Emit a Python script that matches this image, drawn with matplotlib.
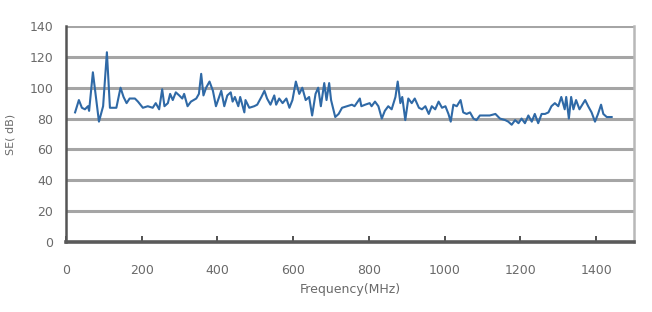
import matplotlib.pyplot as plt

# frequency (MHz) and shielding effectiveness (dB)
freq = [24, 34, 42, 50, 58, 61, 71, 79, 87, 98, 108, 116, 125, 133, 144, 152,
        160, 168, 182, 190, 203, 216, 229, 237, 246, 254, 260, 269, 275, 282,
        290, 299, 307, 312, 321, 330, 344, 351, 357, 363, 370, 379, 388, 396,
        410, 418, 426, 435, 440, 446, 455, 460, 471, 474, 484, 497, 505, 516,
        524, 531, 540, 550, 555, 563, 572, 582, 590, 598, 607, 616, 624, 633,
        642, 650, 659, 666, 673, 682, 688, 695, 700, 711, 720, 729, 742, 755,
        762, 776, 780, 790, 802, 807, 816, 825, 834, 842, 851, 860, 870, 876,
        883, 888, 896, 904, 913, 921, 932, 940, 949, 958, 966, 975, 984, 993,
        1002, 1010, 1016, 1023, 1032, 1042, 1049, 1058, 1067, 1076, 1084, 1093,
        1105, 1119, 1134, 1146, 1160, 1168, 1177, 1186, 1195, 1203, 1212, 1221,
        1230, 1238, 1247, 1256, 1265, 1274, 1282, 1291, 1300, 1308, 1317, 1321,
        1328, 1334, 1340, 1347, 1356, 1371, 1379, 1388, 1397, 1405, 1413, 1419,
        1428, 1441]
se_db = [84, 92, 87, 86, 88, 85, 110, 94, 78, 88, 123, 87, 87, 87, 100, 94,
         90, 93, 93, 91, 87, 88, 87, 90, 86, 99, 88, 90, 96, 92,
         97, 95, 93, 96, 88, 91, 93, 96, 109, 95, 100, 104, 98, 88,
         98, 88, 95, 97, 91, 94, 88, 94, 84, 92, 87, 88, 89, 94,
         98, 93, 89, 95, 89, 93, 90, 93, 87, 92, 104, 96, 100, 92,
         94, 82, 96, 100, 88, 103, 92, 103, 92, 81, 83, 87, 88, 89,
         88, 93, 88, 89, 90, 88, 91, 88, 80, 85, 88, 86, 94, 104,
         90, 94, 79, 93, 90, 93, 87, 86, 88, 83, 88, 86, 91, 87,
         88, 83, 78, 89, 88, 92, 84, 83, 84, 80, 79, 82,
         82, 82, 83, 80, 79, 78, 76, 79, 77, 80, 77, 82,
         78, 83, 77, 83, 83, 84, 88, 90, 88, 94, 86, 94,
         80, 94, 86, 92, 86, 92, 88, 84, 78, 83, 89, 83,
         81, 81]

x_ticks = [0, 200, 400, 600, 800, 1000, 1200, 1400]
y_ticks = [0, 20, 40, 60, 80, 100, 120, 140]

txt = '#6a6a6a'

fig = plt.figure(figsize=(6.52, 3.12), dpi=100)
ax = fig.add_axes([66 / 652, 1 - 242 / 312, 568 / 652, 216 / 312])

# horizontal grid
for y in y_ticks[1:]:
    ax.axhline(y, color='#a5a5a5', lw=2.2, zorder=1)

ax.plot(freq, se_db, color='#2f69a6', lw=1.5, zorder=3)

ax.set_xlim(0, 1500)
ax.set_ylim(0, 140)
ax.set_xticks(x_ticks)
ax.set_yticks(y_ticks)

ax.spines['left'].set_color('#555555')
ax.spines['left'].set_linewidth(1.8)
ax.spines['bottom'].set_color('#5a5a5a')
ax.spines['bottom'].set_linewidth(2.6)
ax.spines['right'].set_color('#b8b8b8')
ax.spines['right'].set_linewidth(1.8)
ax.spines['top'].set_visible(False)

ax.tick_params(axis='x', direction='in', length=4, width=1.2, color='#333333',
               labelsize=9, labelcolor=txt, pad=16)
ax.tick_params(axis='y', length=0, labelsize=9, labelcolor=txt, pad=9)

ax.set_xlabel('Frequency(MHz)', fontsize=9, color=txt, labelpad=4)
ax.set_ylabel('SE( dB)', fontsize=8, color=txt, labelpad=10)

fig.savefig('out.png', dpi=100)
